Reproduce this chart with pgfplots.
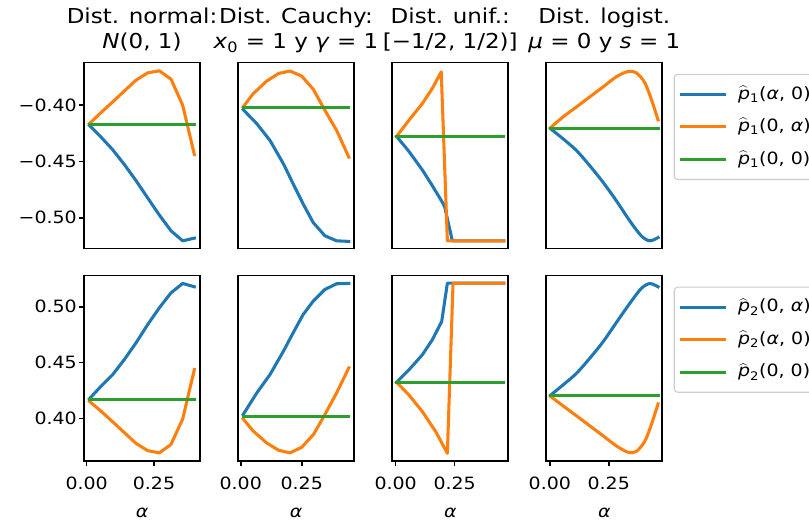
\documentclass[border=0pt]{standalone}
\usepackage{fontspec}
\setmainfont{DejaVu Sans}
\usepackage{graphicx}
\usepackage{pgfplots}
\pgfplotsset{compat=1.18}

\definecolor{tabblue}{HTML}{1F77B4}
\definecolor{taborange}{HTML}{FF7F0E}
\definecolor{tabgreen}{HTML}{2CA02C}
\definecolor{leggray}{HTML}{CCCCCC}

% the reference text is a little wider than tall
\newcommand{\sx}[1]{\scalebox{1.12}[1]{#1}}
\newcommand{\ph}[1]{$\widehat{\mbox{\itshape p}}$\textsubscript{#1}}
\newcommand{\tickfont}{\fontsize{12.7}{15}\selectfont}
% two-line title, baselines 19.3pt apart
\newcommand{\ttl}[2]{\vbox{\offinterlineskip\halign{\hfil##\hfil\cr
  \sx{#1}\rule[-5.3pt]{0pt}{19.3pt}\cr
  \sx{#2}\rule[-4pt]{0pt}{18pt}\cr}}}

\pgfplotsset{
  sub/.style={
    scale only axis, width=87pt, height=139.4pt,
    anchor=north west,
    axis line style={line width=1.2pt},
    every tick/.append style={black, line width=1.2pt},
    tick align=outside, major tick length=3.75pt,
    xtick pos=bottom, ytick pos=left,
    ytick=\empty,
    every axis plot/.append style={line width=2.3pt, line join=round, line cap=rect},
    tick label style={font=\tickfont},
    xticklabel style={inner sep=0pt, anchor=north, yshift=-7.5pt},
    yticklabel style={inner sep=0pt, anchor=east, xshift=-1.5pt},
    % pgfplots already shifts the title up by 6pt
    title style={font=\fontsize{15.4}{19.3}\selectfont,
      at={(0.5,1)}, anchor=south, inner sep=0pt, yshift=0.1pt},
    legend cell align=left,
    legend image code/.code={\draw[##1, line width=2.3pt] (0pt,0pt) -- (32pt,0pt);},
    legend style={overlay, at={(1,1)}, anchor=north west, xshift=8.6pt, yshift=-8.5pt,
      draw=leggray, line width=0.8pt, rounded corners=2.5pt,
      font=\tickfont, inner xsep=4.5pt, inner ysep=7.5pt, row sep=9.4pt,
      nodes={inner sep=0pt, text height=11pt, text depth=4pt},
      /tikz/every odd column/.append style={column sep=9pt}},
  },
  toprow/.style={ymin=-0.52723, ymax=-0.36205, xtick=\empty},
  botrow/.style={ymin=0.36174, ymax=0.52814, xtick={0,0.25},
    xticklabels={\sx{0.00},\sx{0.25}}, xlabel={\sx{\textit{α}}},
    xlabel style={font=\tickfont, at={(axis description cs:0.5,0)},
      anchor=base, inner sep=0pt, yshift=-42pt}},
}

\begin{document}
\begin{tikzpicture}
\path (0,0) rectangle (606.75pt,-391.5pt);

% ---------------- top row ----------------
\begin{axis}[sub, toprow, at={(63pt,-46.9pt)}, xmin=-0.0100, xmax=0.4210,
  ytick={-0.50,-0.45,-0.40}, yticklabels={\sx{−0.50},\sx{−0.45},\sx{−0.40}},
  title={\ttl{Dist. normal:}{\textit{N}(0, 1)}}]
\addplot[tabblue] coordinates {(0.01,-0.4179)(0.0533,-0.4283)(0.0967,-0.4396)(0.14,-0.4527)(0.1833,-0.4670)(0.2267,-0.4824)(0.27,-0.4976)(0.3133,-0.5116)(0.3567,-0.5205)(0.40,-0.5181)};
\addplot[taborange] coordinates {(0.01,-0.4164)(0.0533,-0.4065)(0.0967,-0.3970)(0.14,-0.3873)(0.1833,-0.3777)(0.2267,-0.3712)(0.27,-0.3694)(0.3133,-0.3768)(0.3567,-0.4000)(0.40,-0.4438)};
\addplot[tabgreen] coordinates {(0.01,-0.4170)(0.40,-0.4170)};
\end{axis}

\begin{axis}[sub, toprow, at={(178.5pt,-46.9pt)}, xmin=-0.0111, xmax=0.4643,
  title={\ttl{Dist. Cauchy:}{\textit{x}\textsubscript{0} = 1 y \textit{γ} = 1}}]
\addplot[tabblue] coordinates {(0.01,-0.4039)(0.066,-0.4164)(0.12,-0.4313)(0.175,-0.4520)(0.215,-0.4699)(0.256,-0.4878)(0.297,-0.5042)(0.345,-0.5160)(0.393,-0.5205)(0.443,-0.5210)};
\addplot[taborange] coordinates {(0.01,-0.4015)(0.05,-0.3900)(0.106,-0.3786)(0.156,-0.3717)(0.202,-0.3696)(0.25,-0.3741)(0.298,-0.3860)(0.345,-0.4045)(0.393,-0.4223)(0.443,-0.4461)};
\addplot[tabgreen] coordinates {(0.01,-0.4024)(0.443,-0.4024)};
\end{axis}

\begin{axis}[sub, toprow, at={(294.2pt,-46.9pt)}, xmin=-0.0144, xmax=0.4770,
  title={\ttl{Dist. unif.:}{{[}−1/2, 1/2)]}}]
\addplot[tabblue] coordinates {(0.004,-0.4277)(0.056,-0.4410)(0.113,-0.4575)(0.155,-0.4714)(0.198,-0.4863)(0.208,-0.4905)(0.240,-0.5205)(0.458,-0.5205)};
\addplot[taborange] coordinates {(0.004,-0.4277)(0.03,-0.4205)(0.056,-0.4134)(0.113,-0.3985)(0.155,-0.3851)(0.193,-0.3703)(0.219,-0.5205)(0.458,-0.5205)};
\addplot[tabgreen] coordinates {(0.004,-0.4277)(0.458,-0.4277)};
\end{axis}

\begin{axis}[sub, toprow, at={(409.7pt,-46.9pt)}, xmin=-0.0150, xmax=0.4770,
  title={\ttl{Dist. logist.}{\textit{μ} = 0 y \textit{s} = 1}}]
\addplot[tabblue, smooth, tension=0.5] coordinates {(0.003,-0.4208)(0.056,-0.4298)(0.113,-0.4402)(0.169,-0.4536)(0.226,-0.4685)(0.282,-0.4848)(0.339,-0.5027)(0.388,-0.5161)(0.424,-0.5205)(0.459,-0.5176)};
\addlegendentry{\sx{\ph{1}(\textit{α}, 0)}}
\addplot[taborange, smooth, tension=0.5] coordinates {(0.003,-0.4200)(0.056,-0.4104)(0.113,-0.4015)(0.169,-0.3926)(0.226,-0.3837)(0.282,-0.3747)(0.332,-0.3700)(0.367,-0.3712)(0.403,-0.3800)(0.431,-0.3950)(0.459,-0.4130)};
\addlegendentry{\sx{\ph{1}(0, \textit{α})}}
\addplot[tabgreen] coordinates {(0.003,-0.4208)(0.459,-0.4208)};
\addlegendentry{\sx{\ph{1}(0, 0)}}
\end{axis}

% ---------------- bottom row ----------------
\begin{axis}[sub, botrow, at={(63pt,-206.5pt)}, xmin=-0.0100, xmax=0.4210,
  ytick={0.40,0.45,0.50}, yticklabels={\sx{0.40},\sx{0.45},\sx{0.50}}]
\addplot[tabblue] coordinates {(0.01,0.4176)(0.0533,0.4289)(0.0967,0.4393)(0.14,0.4528)(0.1833,0.4677)(0.2267,0.4841)(0.27,0.4991)(0.3133,0.5125)(0.3567,0.5209)(0.40,0.5179)};
\addplot[taborange] coordinates {(0.01,0.4154)(0.0533,0.4065)(0.0967,0.3970)(0.14,0.3873)(0.1833,0.3777)(0.2267,0.3712)(0.27,0.3692)(0.3133,0.3768)(0.3567,0.3996)(0.40,0.4438)};
\addplot[tabgreen] coordinates {(0.01,0.4169)(0.40,0.4169)};
\end{axis}

\begin{axis}[sub, botrow, at={(178.5pt,-206.5pt)}, xmin=-0.0111, xmax=0.4643]
\addplot[tabblue] coordinates {(0.01,0.4035)(0.066,0.4229)(0.12,0.4393)(0.175,0.4602)(0.215,0.4767)(0.256,0.4931)(0.297,0.5050)(0.345,0.5155)(0.393,0.5206)(0.443,0.5209)};
\addplot[taborange] coordinates {(0.01,0.3996)(0.05,0.3890)(0.106,0.3781)(0.156,0.3715)(0.202,0.3692)(0.25,0.3742)(0.298,0.3856)(0.345,0.4035)(0.393,0.4229)(0.443,0.4453)};
\addplot[tabgreen] coordinates {(0.01,0.4020)(0.443,0.4020)};
\end{axis}

\begin{axis}[sub, botrow, at={(294.2pt,-206.5pt)}, xmin=-0.0144, xmax=0.4770]
\addplot[tabblue] coordinates {(0.004,0.4326)(0.056,0.4435)(0.113,0.4570)(0.155,0.4704)(0.195,0.4868)(0.219,0.5211)(0.458,0.5211)};
\addplot[taborange] coordinates {(0.004,0.4324)(0.056,0.4211)(0.113,0.4062)(0.1695,0.3883)(0.219,0.3688)(0.243,0.5211)(0.458,0.5211)};
\addplot[tabgreen] coordinates {(0.004,0.4324)(0.458,0.4324)};
\end{axis}

\begin{axis}[sub, botrow, at={(409.7pt,-206.5pt)}, xmin=-0.0150, xmax=0.4770]
\addplot[tabblue, smooth, tension=0.5] coordinates {(0.003,0.4208)(0.056,0.4300)(0.113,0.4404)(0.169,0.4538)(0.226,0.4687)(0.282,0.4858)(0.339,0.5030)(0.388,0.5164)(0.424,0.5208)(0.459,0.5179)};
\addlegendentry{\sx{\ph{2}(0, \textit{α})}}
\addplot[taborange, smooth, tension=0.5] coordinates {(0.003,0.4198)(0.056,0.4113)(0.113,0.4024)(0.169,0.3935)(0.226,0.3845)(0.282,0.3755)(0.332,0.3697)(0.367,0.3705)(0.403,0.3797)(0.431,0.3947)(0.459,0.4130)};
\addlegendentry{\sx{\ph{2}(\textit{α}, 0)}}
\addplot[tabgreen] coordinates {(0.003,0.4205)(0.459,0.4205)};
\addlegendentry{\sx{\ph{2}(0, 0)}}
\end{axis}
\end{tikzpicture}
\end{document}
